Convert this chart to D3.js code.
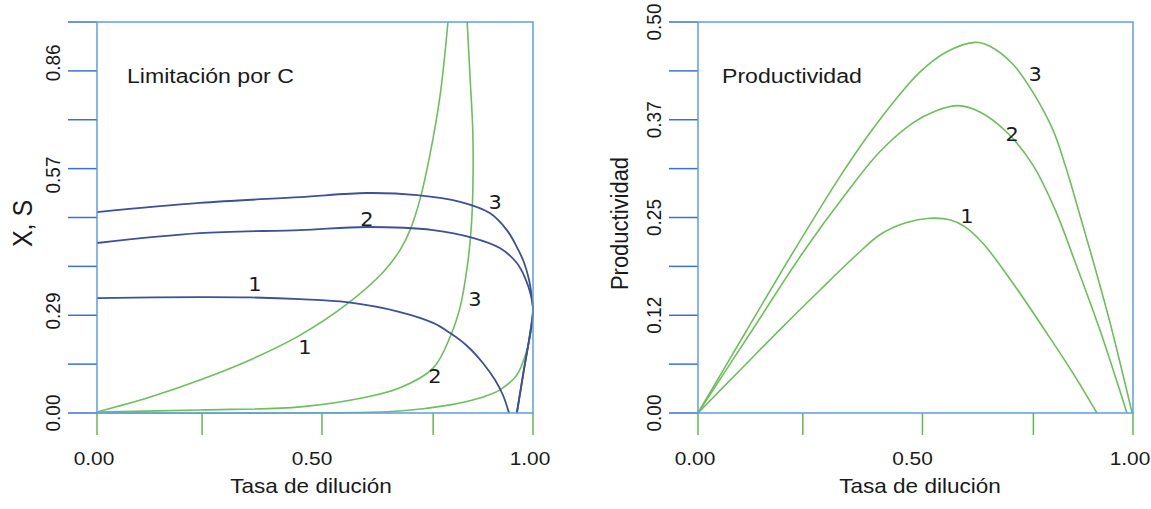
<!DOCTYPE html>
<html>
<head>
<meta charset="utf-8">
<script src="https://cdn.jsdelivr.net/npm/d3@7"></script>
<style>
  html, body { margin: 0; padding: 0; background: #fff; }
  svg { display: block; }
</style>
</head>
<body>
<svg id="chart" width="1151" height="509"></svg>
<script>
// ---- datos ----
// panel izquierdo: X (azul) y S (verde) frente a la tasa de dilución
const xBiomasa1 = [[0, 0.338], [0.236, 0.341], [0.351, 0.340], [0.466, 0.335], [0.573, 0.326], [0.695, 0.297], [0.771, 0.265], [0.810, 0.235], [0.849, 0.197], [0.885, 0.147], [0.913, 0.097], [0.931, 0.053], [0.945, 0]];
const xBiomasa2 = [[0, 0.500], [0.236, 0.529], [0.466, 0.538], [0.619, 0.547], [0.771, 0.538], [0.862, 0.515], [0.924, 0.485], [0.963, 0.441], [0.982, 0.397], [0.995, 0.347], [1.0, 0.303], [0.991, 0.215], [0.979, 0.126], [0.963, 0]];
const xBiomasa3 = [[0, 0.591], [0.236, 0.618], [0.466, 0.635], [0.619, 0.647], [0.734, 0.641], [0.833, 0.621], [0.901, 0.588], [0.940, 0.538], [0.963, 0.488], [0.979, 0.444], [0.991, 0.391], [0.998, 0.332], [1.0, 0.303], [0.991, 0.215], [0.979, 0.126], [0.963, 0]];
const sSustrato1 = [[0, 0.003], [0.122, 0.047], [0.236, 0.097], [0.351, 0.156], [0.466, 0.229], [0.573, 0.320], [0.656, 0.414], [0.695, 0.479], [0.718, 0.538], [0.741, 0.629], [0.764, 0.762], [0.787, 0.935], [0.805, 1.150]];
const sSustrato2 = [[0, 0.003], [0.236, 0.009], [0.466, 0.018], [0.619, 0.047], [0.695, 0.074], [0.771, 0.132], [0.810, 0.224], [0.833, 0.312], [0.849, 0.429], [0.858, 0.538], [0.862, 0.656], [0.862, 0.824], [0.856, 0.979], [0.849, 1.150]];
const sSustrato3 = [[0, 0], [0.466, 0.0], [0.695, 0.006], [0.810, 0.024], [0.878, 0.044], [0.924, 0.068], [0.963, 0.112], [0.986, 0.185], [0.998, 0.259], [1.0, 0.318]];

// panel derecho: productividad
const prod1 = [[0, 0], [0.097, 0.055], [0.189, 0.107], [0.280, 0.157], [0.366, 0.203], [0.418, 0.228], [0.476, 0.243], [0.533, 0.249], [0.579, 0.247], [0.614, 0.238], [0.655, 0.217], [0.724, 0.166], [0.802, 0.102], [0.862, 0.051], [0.917, 0]];
const prod2 = [[0, 0], [0.120, 0.102], [0.241, 0.205], [0.338, 0.279], [0.418, 0.334], [0.494, 0.371], [0.545, 0.386], [0.598, 0.393], [0.648, 0.385], [0.710, 0.359], [0.770, 0.317], [0.821, 0.260], [0.867, 0.193], [0.924, 0.106], [0.986, 0]];
const prod3 = [[0, 0], [0.108, 0.102], [0.218, 0.205], [0.326, 0.302], [0.395, 0.358], [0.453, 0.400], [0.510, 0.436], [0.572, 0.462], [0.637, 0.474], [0.671, 0.469], [0.724, 0.446], [0.770, 0.410], [0.816, 0.362], [0.844, 0.317], [0.878, 0.253], [0.913, 0.185], [0.947, 0.116], [0.998, 0]];

// etiquetas de curvas [x, y, texto]
const etiquetasIzq = [[0.362, 0.379, "1"], [0.619, 0.571, "2"], [0.913, 0.621, "3"], [0.477, 0.194, "1"], [0.775, 0.109, "2"], [0.867, 0.335, "3"]];
const etiquetasDer = [[0.618, 0.252, "1"], [0.722, 0.357, "2"], [0.775, 0.434, "3"]];

// ejes
const xTicks = [0, 0.241, 0.516, 0.771, 1];
const xTickLabels = ["0.00", "0.50", "1.00"];
const xTickLabelValues = [0, 0.5, 1];
const yMaxIzq = 1.15;
const yTicksIzq = d3.range(9).map((i) => (i * yMaxIzq) / 8);
const yLabelsIzq = ["0.00", "0.29", "0.57", "0.86"];
const yLabelValuesIzq = [0, 0.30, 0.70, 1.03];
const yMaxDer = 0.5;
const yTicksDer = d3.range(9).map((i) => (i * yMaxDer) / 8);
const yLabelsDer = ["0.00", "0.12", "0.25", "0.37", "0.50"];
const yLabelValuesDer = [0, 0.125, 0.25, 0.375, 0.5];

// ---- estilos ----
const VERDE = "#6cc05a";
const AZUL_OSCURO = "#3d5098";
const MARCO = "#5e9de2";
const TICK_Y = "#3f6fd6";
const TICK_X = "#62b84f";
const TEXTO = "#1a1a1a";
const FUENTE = "'Liberation Sans', Arial, sans-serif";
const SX = 1.1;

const svg = d3.select("#chart");

function texto(x, y, str, size, rot, family) {
  svg.append("text")
    .attr("transform", `translate(${x},${y}) scale(${SX},1)${rot ? " rotate(-90)" : ""}`)
    .attr("text-anchor", "middle")
    .attr("font-family", family || FUENTE)
    .attr("font-size", size)
    .attr("fill", TEXTO)
    .text(str);
}

function panel({ left, right, top, bottom, yMax, yTicks, yLabels, yLabelValues, azules, verdes, etiquetas, titulo, tituloX, yTitulo, yTituloX, yTituloSize, xTituloX }) {
  const x = d3.scaleLinear().domain([0, 1]).range([left, right]);
  const y = d3.scaleLinear().domain([0, yMax]).range([bottom, top]);

  const linea = d3.line()
    .x((d) => x(d[0]))
    .y((d) => y(d[1]))
    .curve(d3.curveCatmullRom.alpha(0.5));

  // ticks del eje x (verdes, hacia abajo)
  svg.append("g").selectAll("line")
    .data(xTicks)
    .join("line")
    .attr("x1", (d) => x(d)).attr("x2", (d) => x(d))
    .attr("y1", bottom).attr("y2", bottom + 22)
    .attr("stroke", TICK_X).attr("stroke-width", 1.5);

  // ticks del eje y (azules, hacia la izquierda)
  svg.append("g").selectAll("line")
    .data(yTicks)
    .join("line")
    .attr("x1", left - 29).attr("x2", left)
    .attr("y1", (d) => y(d)).attr("y2", (d) => y(d))
    .attr("stroke", TICK_Y).attr("stroke-width", 1.5);

  // curvas
  verdes.forEach((serie) => {
    svg.append("path").datum(serie)
      .attr("fill", "none").attr("stroke", VERDE).attr("stroke-width", 1.6)
      .attr("d", linea);
  });
  azules.forEach((serie) => {
    svg.append("path").datum(serie)
      .attr("fill", "none").attr("stroke", AZUL_OSCURO).attr("stroke-width", 1.8)
      .attr("d", linea);
  });

  // marco
  svg.append("rect")
    .attr("x", left).attr("y", top)
    .attr("width", right - left).attr("height", bottom - top)
    .attr("fill", "none").attr("stroke", MARCO).attr("stroke-width", 1.5);

  // etiquetas de ticks
  xTickLabels.forEach((t, i) => texto(x(xTickLabelValues[i]) - 3, bottom + 52, t, 19));
  yLabels.forEach((t, i) => texto(left - 37, y(yLabelValues[i]), t, 19, true));

  // etiquetas de curvas
  etiquetas.forEach((e) => texto(x(e[0]), y(e[1]) + 7, e[2], 19, false, "'DejaVu Sans', sans-serif"));

  // títulos
  svg.append("text")
    .attr("transform", `translate(${tituloX},${top + 61}) scale(${SX},1)`)
    .attr("font-family", FUENTE).attr("font-size", 21).attr("fill", TEXTO)
    .text(titulo);
  texto(xTituloX, bottom + 80, "Tasa de dilución", 20.5);
  texto(yTituloX, (top + bottom) / 2 + 6, yTitulo, yTituloSize, true);
}

panel({
  left: 97, right: 533, top: 22, bottom: 413,
  yMax: yMaxIzq, yTicks: yTicksIzq, yLabels: yLabelsIzq, yLabelValues: yLabelValuesIzq,
  azules: [xBiomasa1, xBiomasa2, xBiomasa3],
  verdes: [sSustrato1, sSustrato2, sSustrato3],
  etiquetas: etiquetasIzq,
  titulo: "Limitación por C", tituloX: 127,
  yTitulo: "X, S", yTituloX: 32, yTituloSize: 25,
  xTituloX: 311
});

panel({
  left: 698, right: 1133, top: 22, bottom: 413,
  yMax: yMaxDer, yTicks: yTicksDer, yLabels: yLabelsDer, yLabelValues: yLabelValuesDer,
  azules: [],
  verdes: [prod1, prod2, prod3],
  etiquetas: etiquetasDer,
  titulo: "Productividad", tituloX: 722,
  yTitulo: "Productividad", yTituloX: 628, yTituloSize: 22,
  xTituloX: 920
});
</script>
</body>
</html>
